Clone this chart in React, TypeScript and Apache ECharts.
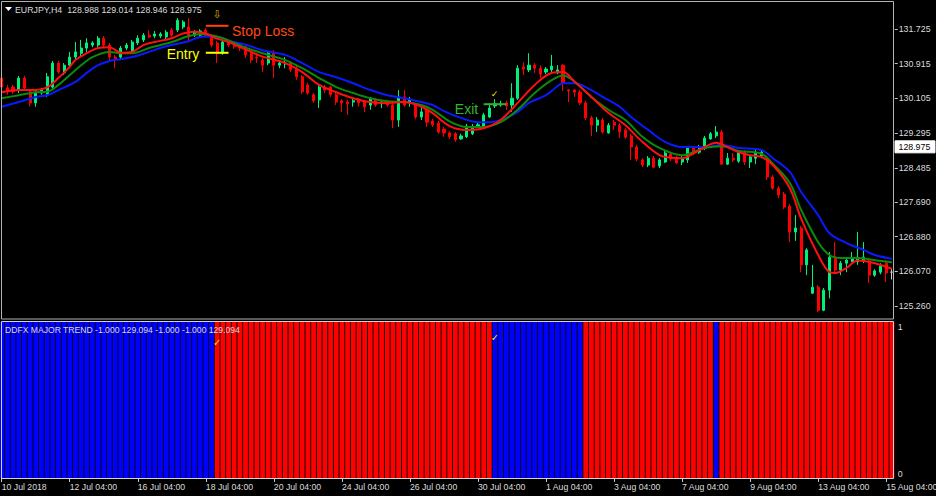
import React, { useEffect, useRef } from "react";
import * as echarts from "echarts";

// ---- candle data (EURJPY H4), bar 0 = 10 Jul 2018 ----
const opens = [
  130.58, 130.35, 130.37, 130.30, 130.58, 130.26, 130.00, 130.23, 130.19, 130.37,
  130.93, 130.70, 130.88, 131.07, 131.16, 131.28, 131.35, 131.35, 131.51, 131.35,
  131.07, 131.07, 131.28, 131.19, 131.40, 131.47, 131.58, 131.56, 131.56, 131.54,
  131.70, 131.70, 131.77, 131.77, 131.58, 131.58, 131.70, 131.54, 131.40, 131.16,
  131.42, 131.40, 131.37, 131.31, 131.16, 131.07, 131.00, 130.93, 131.16, 130.88,
  130.91, 130.93, 130.81, 130.61, 130.42, 130.19, 130.07, 130.37, 130.37, 130.19,
  130.05, 130.02, 130.02, 130.07, 130.02, 129.95, 130.07, 129.98, 130.02, 129.95,
  129.60, 130.14, 130.00, 129.95, 129.67, 129.84, 129.58, 129.53, 129.39, 129.30,
  129.28, 129.16, 129.21, 129.28, 129.44, 129.46, 129.67, 129.93, 129.95, 130.00,
  129.95, 130.11, 130.84, 130.77, 130.88, 130.81, 130.72, 130.77, 130.70, 130.88,
  130.30, 130.30, 130.25, 130.00, 129.65, 129.48, 129.60, 129.30, 129.55, 129.48,
  129.37, 129.23, 128.97, 128.67, 128.55, 128.71, 128.53, 128.62, 128.81, 128.71,
  128.62, 128.67, 128.95, 128.85, 128.95, 129.16, 129.23, 129.32, 128.57, 128.71,
  128.64, 128.85, 128.62, 128.71, 128.76, 128.71, 128.27, 128.01, 127.87, 127.59,
  126.99, 127.08, 126.22, 125.56, 125.70, 125.16, 125.63, 126.40, 126.10, 126.26,
  126.29, 126.29, 126.31, 126.31, 125.98, 126.05, 126.26, 126.05,
];
const closes = [
  130.37, 130.26, 130.26, 130.58, 130.35, 130.00, 130.23, 130.30, 130.61, 130.93,
  130.72, 130.88, 131.07, 131.19, 131.28, 131.40, 131.40, 131.51, 131.35, 131.07,
  131.00, 131.28, 131.35, 131.42, 131.51, 131.58, 131.54, 131.61, 131.61, 131.65,
  131.58, 131.93, 131.89, 131.54, 131.65, 131.68, 131.58, 131.35, 131.16, 131.42,
  131.35, 131.31, 131.28, 131.12, 131.00, 131.05, 130.88, 131.16, 130.88, 130.93,
  130.93, 130.77, 130.61, 130.26, 130.23, 130.05, 130.37, 130.30, 130.19, 130.02,
  130.00, 129.98, 130.05, 130.00, 129.91, 130.11, 129.95, 130.02, 129.95, 129.60,
  130.14, 129.95, 130.07, 129.67, 129.79, 129.55, 129.49, 129.32, 129.30, 129.21,
  129.14, 129.23, 129.46, 129.44, 129.49, 129.72, 129.88, 129.98, 129.98, 129.93,
  130.11, 130.81, 130.79, 130.88, 130.81, 130.67, 130.79, 130.86, 130.77, 130.46,
  130.28, 130.25, 130.00, 129.65, 129.48, 129.60, 129.32, 129.48, 129.48, 129.32,
  129.20, 128.97, 128.69, 128.55, 128.71, 128.50, 128.67, 128.83, 128.69, 128.60,
  128.71, 128.95, 128.83, 128.97, 129.18, 129.28, 129.32, 128.57, 128.71, 128.67,
  128.85, 128.62, 128.74, 128.85, 128.85, 128.27, 128.01, 127.85, 127.57, 126.99,
  127.08, 126.22, 126.57, 125.70, 125.16, 125.63, 126.40, 126.10, 126.26, 126.33,
  126.38, 126.40, 126.40, 125.98, 126.08, 126.19, 126.03, 126.05,
];
const highs = [
  130.65, 130.42, 130.42, 130.63, 130.63, 130.30, 130.28, 130.35, 130.70, 130.98,
  130.98, 130.93, 131.19, 131.42, 131.47, 131.51, 131.44, 131.56, 131.56, 131.40,
  131.12, 131.33, 131.40, 131.47, 131.58, 131.63, 131.70, 131.68, 131.65, 131.70,
  131.75, 131.98, 131.93, 131.98, 131.70, 131.72, 131.75, 131.58, 131.44, 131.47,
  131.47, 131.44, 131.40, 131.35, 131.19, 131.16, 131.05, 131.19, 131.23, 131.00,
  131.07, 130.98, 130.86, 130.65, 130.47, 130.23, 130.42, 130.42, 130.40, 130.23,
  130.09, 130.07, 130.11, 130.11, 130.07, 130.14, 130.11, 130.07, 130.07, 130.00,
  130.30, 130.30, 130.14, 130.00, 129.91, 129.88, 129.63, 129.58, 129.44, 129.34,
  129.32, 129.28, 129.51, 129.51, 129.55, 129.77, 129.95, 130.09, 130.05, 130.05,
  130.46, 130.88, 130.95, 131.16, 130.93, 130.88, 130.84, 131.12, 130.88, 130.91,
  130.32, 130.32, 130.30, 130.05, 129.70, 129.67, 129.65, 129.53, 129.60, 129.53,
  129.41, 129.28, 129.02, 128.71, 128.76, 128.76, 128.71, 128.88, 128.85, 128.76,
  128.76, 128.99, 128.99, 129.02, 129.23, 129.32, 129.46, 129.37, 128.83, 128.83,
  128.90, 128.90, 128.78, 128.90, 128.88, 128.76, 128.32, 128.06, 127.92, 127.64,
  127.38, 127.13, 126.61, 126.22, 125.75, 125.68, 126.52, 126.75, 126.31, 126.40,
  126.52, 126.99, 126.75, 126.36, 126.12, 126.26, 126.33, 126.12,
];
const lows = [
  130.30, 130.19, 130.21, 130.23, 130.30, 129.91, 129.91, 130.19, 130.14, 130.33,
  130.68, 130.65, 130.84, 131.00, 131.07, 131.19, 131.30, 131.30, 131.30, 131.00,
  130.81, 131.02, 131.23, 131.14, 131.35, 131.42, 131.51, 131.51, 131.51, 131.49,
  131.54, 131.65, 131.72, 131.44, 131.54, 131.54, 131.54, 131.30, 130.93, 131.12,
  131.30, 131.26, 131.21, 131.05, 130.93, 130.93, 130.72, 130.88, 130.58, 130.81,
  130.81, 130.72, 130.54, 130.21, 130.19, 130.00, 129.88, 130.23, 130.14, 129.95,
  129.79, 129.72, 129.91, 129.91, 129.79, 129.84, 129.91, 129.88, 129.91, 129.41,
  129.44, 129.91, 129.91, 129.62, 129.60, 129.44, 129.44, 129.28, 129.21, 129.16,
  129.09, 129.14, 129.18, 129.25, 129.42, 129.42, 129.65, 129.88, 129.91, 129.84,
  129.79, 130.07, 130.65, 130.72, 130.70, 130.58, 130.67, 130.72, 130.67, 130.28,
  130.02, 130.14, 129.95, 129.60, 129.23, 129.32, 129.28, 129.28, 129.37, 129.18,
  129.16, 128.67, 128.64, 128.50, 128.50, 128.48, 128.48, 128.60, 128.64, 128.57,
  128.55, 128.60, 128.78, 128.81, 128.90, 129.14, 129.18, 128.55, 128.55, 128.62,
  128.60, 128.55, 128.48, 128.57, 128.71, 128.20, 127.97, 127.78, 127.52, 126.75,
  126.78, 126.05, 125.98, 125.54, 125.12, 125.14, 125.44, 126.05, 125.98, 126.05,
  126.29, 126.22, 126.26, 125.80, 125.94, 126.00, 125.82, 125.88,
];

// ---- moving averages: [bar index, price] ----
const redMA: [number, number][] = [
  [0, 130.25], [3, 130.30], [6, 130.30], [8, 130.36], [10, 130.58], [12, 130.84], [13, 131.0],
  [15, 131.16], [17, 131.28], [19, 131.30], [20, 131.24], [21, 131.17], [23, 131.19], [25, 131.35],
  [27, 131.42], [30, 131.51], [32, 131.62], [34, 131.66], [36, 131.62], [38, 131.50], [40, 131.42],
  [43, 131.25], [46, 131.08], [50, 130.93], [53, 130.72], [56, 130.42], [59, 130.25], [62, 130.11],
  [65, 130.02], [68, 130.0], [71, 130.02], [74, 129.91], [76, 129.76], [79, 129.46], [82, 129.37],
  [85, 129.41], [88, 129.60], [91, 130.0], [94, 130.42], [97, 130.70], [99, 130.72], [101, 130.50],
  [104, 130.14], [107, 129.77], [110, 129.48], [113, 129.09], [116, 128.78], [118, 128.72],
  [120, 128.71], [122, 128.82], [124, 128.97], [126, 129.07], [128, 128.97], [130, 128.85],
  [132, 128.78], [134, 128.74], [136, 128.55], [139, 128.01], [141, 127.30], [144, 126.45],
  [146, 126.05], [147, 126.03], [149, 126.15], [151, 126.32], [154, 126.26], [157, 126.13],
];
const greenMA: [number, number][] = [
  [0, 130.11], [3, 130.18], [6, 130.25], [8, 130.26], [10, 130.42], [12, 130.65], [14, 130.88],
  [16, 131.07], [19, 131.19], [21, 131.16], [23, 131.16], [26, 131.28], [28, 131.35], [30, 131.42],
  [33, 131.56], [35, 131.61], [37, 131.58], [39, 131.51], [40, 131.46], [43, 131.29], [46, 131.16],
  [50, 131.0], [53, 130.81], [56, 130.58], [59, 130.37], [62, 130.23], [65, 130.11], [68, 130.04],
  [71, 130.02], [74, 129.95], [76, 129.84], [79, 129.57], [82, 129.44], [85, 129.44], [88, 129.55],
  [91, 129.84], [94, 130.23], [97, 130.53], [99, 130.64], [101, 130.50], [104, 130.14],
  [107, 129.84], [110, 129.60], [113, 129.21], [116, 128.95], [120, 128.78], [124, 128.95],
  [127, 128.99], [130, 128.88], [134, 128.81], [136, 128.58], [139, 128.13], [141, 127.50],
  [144, 126.75], [146, 126.45], [148, 126.38], [151, 126.38], [154, 126.33], [157, 126.28],
];
const blueMA: [number, number][] = [
  [0, 129.91], [3, 130.02], [6, 130.14], [8, 130.18], [10, 130.30], [13, 130.49], [15, 130.70],
  [17, 130.88], [19, 130.98], [21, 131.02], [23, 131.07], [26, 131.19], [28, 131.28], [30, 131.35],
  [33, 131.44], [35, 131.54], [37, 131.55], [39, 131.51], [40, 131.45], [43, 131.36], [46, 131.23],
  [50, 131.12], [53, 130.93], [56, 130.72], [59, 130.60], [62, 130.46], [65, 130.30], [68, 130.18],
  [71, 130.11], [74, 130.02], [76, 129.95], [78, 129.81], [81, 129.65], [84, 129.55], [86, 129.55],
  [89, 129.65], [91, 129.79], [93, 130.0], [96, 130.18], [98, 130.39], [99, 130.46], [101, 130.46],
  [103, 130.37], [106, 130.14], [109, 129.91], [111, 129.67], [114, 129.37], [117, 129.09],
  [120, 128.97], [124, 128.97], [127, 129.02], [130, 128.95], [134, 128.90], [136, 128.71],
  [139, 128.39], [141, 127.92], [144, 127.38], [146, 126.96], [149, 126.73], [152, 126.57],
  [154, 126.45], [157, 126.36],
];

// ---- DDFX major trend: runs of [direction, number of bars] ----
const trendRuns: [number, number][] = [[1, 38], [-1, 49], [1, 16], [-1, 23], [1, 1], [-1, 31]];

// ---- axes ----
const priceTicks = [131.725, 130.915, 130.105, 129.295, 128.485, 127.69, 126.88, 126.07, 125.26];
const timeTickBars = [0, 12, 24, 36, 48, 60, 72, 84, 96, 108, 120, 132, 144, 156];
const timeTickLabels = [
  "10 Jul 2018", "12 Jul 04:00", "16 Jul 04:00", "18 Jul 04:00", "20 Jul 04:00", "24 Jul 04:00",
  "26 Jul 04:00", "30 Jul 04:00", "1 Aug 04:00", "3 Aug 04:00", "7 Aug 04:00", "9 Aug 04:00",
  "13 Aug 04:00", "15 Aug 04:00",
];
const symbolHeader = "EURJPY,H4  128.988 129.014 128.946 128.975";
const indicatorHeader = "DDFX MAJOR TREND -1.000 129.094 -1.000 -1.000 129.094";
const lastPrice = 128.975;

// ---- annotations ----
const stopLevel = 131.8;
const entryLevel = 131.17;
const exitLevel = 129.97;
const tradeBars = [36, 40];
const exitBars = [85, 89];
const arrowBar = 38;
const arrowLevel = 132.06;
const exitCheckLevel = 130.2;
const lowerChecks: [number, number][] = [[38, 0.87], [87, 0.9]];

const BULL = "#00f07a";
const BEAR = "#ff0000";
const DOJI = "#cfcfcf";
const TXT = "#dcdcdc";
const FONT = "'Liberation Sans', Arial, sans-serif";

export default function App() {
  const ref = useRef<HTMLDivElement>(null);
  useEffect(() => {
    const el = ref.current as HTMLDivElement;
    const chart = echarts.init(el, null, { renderer: "svg" });
    const cats = opens.map((_, i) => String(i));
    const candles = opens.map((o, i) => {
      const item: any = { value: [o, closes[i], lows[i], highs[i]] };
      if (o === closes[i]) {
        item.itemStyle = { color: DOJI, color0: DOJI, borderColor: DOJI, borderColor0: DOJI };
      }
      return item;
    });
    const trend: any[] = [];
    trendRuns.forEach(([dir, len]) => {
      for (let k = 0; k < len; k++) {
        trend.push({ value: 1, itemStyle: { color: dir > 0 ? "#0000ff" : "#ff0000" } });
      }
    });
    const tickMap = new Map<number, string>(timeTickBars.map((b, k) => [b, timeTickLabels[k]]));
    const L = -1.13;
    const W = 5.67 * opens.length;

    const maSeries = (data: [number, number][], color: string) => ({
      type: "line",
      xAxisIndex: 0,
      yAxisIndex: 0,
      data,
      smooth: 0.35,
      showSymbol: false,
      symbol: "none",
      lineStyle: { width: 2, color },
      z: 4,
      silent: true,
    });

    chart.setOption({
      animation: false,
      backgroundColor: "#000000",
      textStyle: { fontFamily: FONT },
      grid: [
        { left: L, width: W, top: 2, height: 317, outerBoundsMode: "none", containLabel: false },
        { left: L, width: W, top: 322, height: 156, outerBoundsMode: "none", containLabel: false },
      ],
      xAxis: [
        {
          type: "category",
          gridIndex: 0,
          data: cats,
          boundaryGap: true,
          axisLine: { show: false },
          axisTick: { show: false },
          axisLabel: { show: false },
          splitLine: { show: false },
        },
        {
          type: "category",
          gridIndex: 1,
          data: cats,
          boundaryGap: true,
          axisLine: { show: false },
          axisTick: {
            show: true,
            alignWithLabel: true,
            interval: (idx: number) => tickMap.has(idx),
            length: 4,
            lineStyle: { color: "#c8c8c8", width: 1 },
          },
          axisLabel: {
            interval: (idx: number) => tickMap.has(idx),
            formatter: (_v: string, idx: number) => tickMap.get(idx) || "",
            align: "left",
            color: TXT,
            fontSize: 8.7,
            fontFamily: FONT,
            margin: 4,
          },
          splitLine: { show: false },
        },
      ],
      yAxis: [
        {
          type: "value",
          gridIndex: 0,
          position: "right",
          min: 124.957,
          max: 132.355,
          splitLine: { show: false },
          axisLine: { show: false },
          axisTick: {
            show: true,
            customValues: priceTicks,
            length: 3,
            lineStyle: { color: "#c8c8c8" },
          },
          axisLabel: {
            customValues: priceTicks,
            formatter: (v: number) => v.toFixed(3),
            color: TXT,
            fontSize: 8.8,
            fontFamily: FONT,
            margin: 4,
          },
        },
        {
          type: "value",
          gridIndex: 1,
          position: "right",
          min: 0,
          max: 1,
          interval: 1,
          splitLine: { show: false },
          axisLine: { show: false },
          axisTick: { show: false },
          axisLabel: {
            color: TXT,
            fontSize: 8.8,
            fontFamily: FONT,
            margin: 3,
            verticalAlignMinLabel: "bottom",
            verticalAlignMaxLabel: "top",
          },
        },
      ],
      series: [
        {
          type: "candlestick",
          xAxisIndex: 0,
          yAxisIndex: 0,
          data: candles,
          barWidth: 2.6,
          itemStyle: {
            color: BULL,
            color0: BEAR,
            borderColor: BULL,
            borderColor0: BEAR,
            borderWidth: 1,
          },
          silent: true,
          z: 2,
        },
        maSeries(blueMA, "#0a1aff"),
        maSeries(greenMA, "#0b8a0b"),
        maSeries(redMA, "#ff1010"),
        {
          type: "bar",
          xAxisIndex: 1,
          yAxisIndex: 1,
          data: trend,
          barCategoryGap: "16%",
          silent: true,
        },
      ],
    });

    const P = (i: number, v: number) =>
      chart.convertToPixel({ gridIndex: 0 } as any, [i, v]) as unknown as number[];
    const Q = (i: number, v: number) =>
      chart.convertToPixel({ gridIndex: 1 } as any, [i, v]) as unknown as number[];

    const txt = (x: number, y: number, text: string, fill: string, size: number, align = "left", family = FONT) => ({
      type: "text",
      x,
      y,
      z: 110,
      silent: true,
      style: {
        text,
        fill,
        font: `${size}px ${family}`,
        align,
        textAlign: align,
        verticalAlign: "middle",
        textVerticalAlign: "middle",
      },
    });
    const hline = (x1: number, x2: number, y: number, stroke: string) => ({
      type: "line",
      z: 110,
      silent: true,
      shape: { x1, y1: y, x2, y2: y },
      style: { stroke, lineWidth: 2 },
    });

    const s0 = P(tradeBars[0], stopLevel);
    const s1 = P(tradeBars[1], stopLevel);
    const e0 = P(tradeBars[0], entryLevel);
    const e1 = P(tradeBars[1], entryLevel);
    const x0 = P(exitBars[0], exitLevel);
    const x1 = P(exitBars[1], exitLevel);
    const ar = P(arrowBar, arrowLevel);
    const ck = P(exitBars[0] + 2, exitCheckLevel);
    const lp = P(opens.length - 1, lastPrice);

    const g: any[] = [
      {
        type: "rect",
        z: 100,
        silent: true,
        shape: { x: 1.5, y: 1.5, width: 892, height: 317.5 },
        style: { fill: "none", stroke: "#b4b4b4", lineWidth: 1 },
      },
      {
        type: "rect",
        z: 100,
        silent: true,
        shape: { x: 1.5, y: 321.5, width: 892, height: 157 },
        style: { fill: "none", stroke: "#d4d4d4", lineWidth: 1 },
      },
      {
        type: "polygon",
        z: 110,
        silent: true,
        shape: { points: [[5, 7], [12, 7], [8.5, 11]] },
        style: { fill: "#ffffff" },
      },
      txt(15, 9.5, symbolHeader, TXT, 8.8),
      txt(5, 329.5, indicatorHeader, TXT, 8.6),
      hline(s0[0], s1[0], s0[1], "#ff4500"),
      txt(s1[0] + 3.5, s1[1] + 5, "Stop Loss", "#ff4a14", 14),
      hline(e0[0], e1[0], e0[1], "#ffff00"),
      txt(e0[0] - 6.5, e0[1] + 1, "Entry", "#ffff00", 14, "right"),
      hline(x0[0], x1[0], x0[1], "#2fb02f"),
      txt(x0[0] - 5.5, x0[1] + 4.5, "Exit", "#33b533", 14, "right"),
      txt(ar[0], ar[1], "\u21e9", "#d2b000", 11, "center", "'DejaVu Sans'"),
      txt(ck[0] - 0.5, ck[1], "\u2713", "#f2e200", 9, "center", "'DejaVu Sans'"),
      {
        type: "rect",
        z: 110,
        silent: true,
        shape: { x: 895, y: lp[1] - 6, width: 40, height: 12 },
        style: { fill: "#ffffff", stroke: "#ffffff" },
      },
      txt(898.5, lp[1], lastPrice.toFixed(3), "#000000", 8.8),
    ];
    lowerChecks.forEach(([b, v]) => {
      const c = Q(b, v);
      g.push(txt(c[0], c[1], "\u2713", "#f2e200", 10, "center", "'DejaVu Sans'"));
    });
    chart.setOption({ graphic: g });

    return () => chart.dispose();
  }, []);

  return (
    <div
      ref={ref}
      style={{ position: "fixed", left: 0, top: 0, width: 936, height: 496, background: "#000" }}
    />
  );
}
